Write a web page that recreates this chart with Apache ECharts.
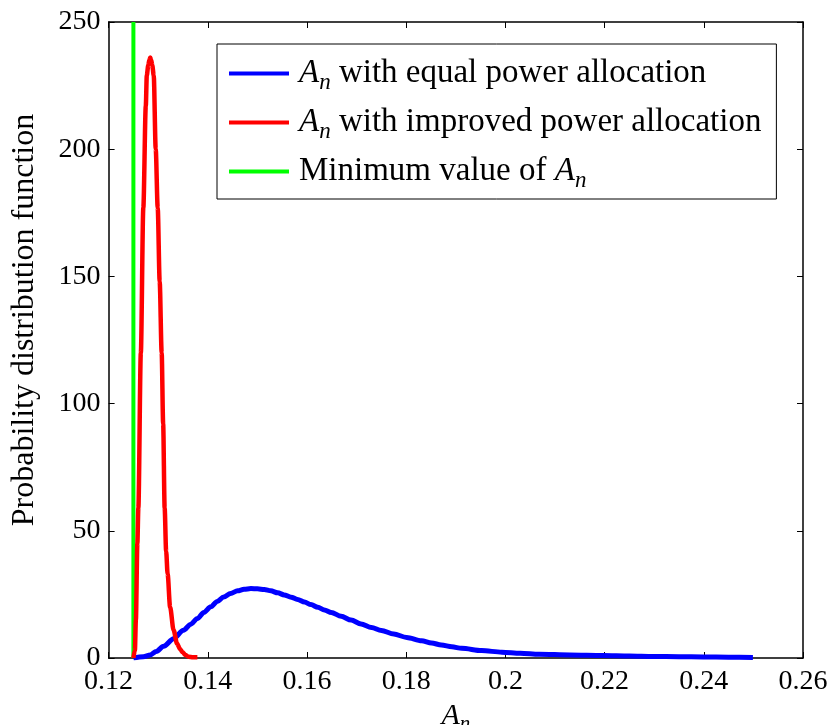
<!DOCTYPE html>
<html>
<head>
<meta charset="utf-8">
<script src="https://cdn.jsdelivr.net/npm/echarts@6/dist/echarts.min.js"></script>
<style>html,body{margin:0;padding:0;background:#fff}#c{width:829px;height:725px}</style>
</head>
<body>
<div id="c"></div>
<script>
// x-axis ticks
const xTicks = [0.12, 0.14, 0.16, 0.18, 0.2, 0.22, 0.24, 0.26];
const yTicks = [0, 50, 100, 150, 200, 250];

// Series: An with equal power allocation (x, pdf)
const equalX = [0.1250, 0.1270, 0.1284, 0.1296, 0.1311, 0.1331, 0.1351, 0.1365, 0.1379, 0.1392, 0.1406, 0.1419, 0.1432, 0.1446, 0.1460, 0.1473, 0.1487, 0.1500, 0.1514, 0.1527, 0.1541, 0.1554, 0.1568, 0.1581, 0.1595, 0.1608, 0.1622, 0.1635, 0.1649, 0.1669, 0.1689, 0.1709, 0.1730, 0.1750, 0.1775, 0.1801, 0.1831, 0.1851, 0.1871, 0.1892, 0.1912, 0.1952, 0.1993, 0.2030, 0.2068, 0.2130, 0.2197, 0.2250, 0.2298, 0.2350, 0.2399, 0.2450, 0.2499];
const equalY = [0.0, 0.5, 1.2, 2.6, 4.6, 7.6, 10.9, 13.2, 15.5, 17.9, 20.1, 22.2, 24.0, 25.4, 26.4, 27.0, 27.3, 27.2, 26.9, 26.4, 25.6, 24.8, 23.9, 23.0, 22.0, 21.0, 19.9, 18.9, 17.9, 16.4, 14.9, 13.4, 12.0, 10.8, 9.4, 8.1, 6.8, 5.9, 5.1, 4.4, 3.8, 2.9, 2.3, 1.9, 1.5, 1.2, 1.0, 0.8, 0.6, 0.5, 0.4, 0.3, 0.2];

// Series: An with improved power allocation
const improvedX = [0.1250, 0.1253, 0.1255, 0.1258, 0.1260, 0.1265, 0.1270, 0.1275, 0.1277, 0.1280, 0.1282, 0.1284, 0.1286, 0.1288, 0.1291, 0.1295, 0.1299, 0.1303, 0.1307, 0.1310, 0.1313, 0.1316, 0.1319, 0.1324, 0.1331, 0.1338, 0.1344, 0.1349, 0.1355, 0.1361, 0.1370, 0.1379];
const improvedY = [0, 3, 15, 45, 59, 120, 177, 217, 229, 233, 235, 236, 235, 233, 229, 200, 177, 148, 120, 92, 59, 42, 33, 20, 11, 5.7, 3.5, 2.3, 1.2, 0.5, 0.3, 0.3];

// Series: minimum value of An
const minX = [0.125, 0.125];
const minY = [0, 250];

const zip = (a, b) => a.map((v, i) => [v, b[i]]);

const FONT = 'Liberation Serif';
const NAMES = ['An with equal power allocation', 'An with improved power allocation', 'Minimum value of An'];
const mkRich = (fs) => ({
  i: {fontFamily: FONT, fontStyle: 'italic', fontSize: fs, color: '#000', lineHeight: Math.round(fs * 1.25), verticalAlign: 'middle'},
  s: {fontFamily: FONT, fontStyle: 'italic', fontSize: Math.round(fs * 0.7), color: '#000', lineHeight: Math.round(fs * 0.7), verticalAlign: 'bottom'},
  t: {fontFamily: FONT, fontSize: fs, color: '#000', lineHeight: Math.round(fs * 1.25), verticalAlign: 'middle'}
});

const chart = echarts.init(document.getElementById('c'), null, {renderer: 'canvas'});
const axisLine = {show: true, onZero: false, lineStyle: {color: '#000', width: 1.5}};
const tick = {show: true, inside: true, length: 6, lineStyle: {color: '#000', width: 1}};

chart.setOption({
  animation: false,
  backgroundColor: '#fff',
  grid: {left: 108.6, right: 26, top: 22, bottom: 67, containLabel: false, outerBoundsMode: 'none'},
  xAxis: [{
    type: 'value', min: 0.12, max: 0.26, interval: 0.02,
    axisLine: axisLine, axisTick: tick, splitLine: {show: false},
    axisLabel: {fontFamily: FONT, fontSize: 28, color: '#000', margin: 10,
      formatter: v => String(+v.toFixed(2))},
    name: '{i|A}{s|n}', nameLocation: 'middle', nameGap: 36,
    nameTextStyle: {rich: mkRich(30)}
  }, {
    type: 'value', min: 0.12, max: 0.26, interval: 0.02, position: 'top',
    axisLine: axisLine, axisTick: tick, axisLabel: {show: false}, splitLine: {show: false}
  }],
  yAxis: [{
    type: 'value', min: 0, max: 250, interval: 50,
    axisLine: axisLine, axisTick: tick, splitLine: {show: false},
    axisLabel: {fontFamily: FONT, fontSize: 28, color: '#000', margin: 8},
    name: 'Probability distribution function', nameLocation: 'middle', nameGap: 68,
    nameTextStyle: {fontFamily: FONT, fontSize: 32, color: '#000', padding: [0, 0, 0, 40]}
  }, {
    type: 'value', min: 0, max: 250, interval: 50, position: 'right',
    axisLine: axisLine, axisTick: tick, axisLabel: {show: false}, splitLine: {show: false}
  }],
  legend: {
    orient: 'vertical', left: 217, top: 44,
    backgroundColor: '#fff', borderColor: '#000', borderWidth: 1,
    padding: [13, 15, 7, 12], itemGap: 12,
    itemWidth: 60, itemHeight: 4, icon: 'rect',
    data: NAMES,
    formatter: n => {
      if (n === NAMES[0]) return '{i|A}{s|n}{t| with equal power allocation}';
      if (n === NAMES[1]) return '{i|A}{s|n}{t| with improved power allocation}';
      return '{t|Minimum value of }{i|A}{s|n}';
    },
    textStyle: {rich: mkRich(33), padding: [0, 0, 0, 5]}
  },
  series: [{
    name: NAMES[0], type: 'line', data: zip(equalX, equalY), showSymbol: false, symbol: 'none',
    smooth: 0.3, smoothMonotone: 'x',
    lineStyle: {color: '#0000ff', width: 5}, itemStyle: {color: '#0000ff'}, z: 3
  }, {
    name: NAMES[1], type: 'line', data: zip(improvedX, improvedY), showSymbol: false, symbol: 'none',
    smooth: 0.3, smoothMonotone: 'x',
    lineStyle: {color: '#ff0000', width: 4.5}, itemStyle: {color: '#ff0000'}, z: 4
  }, {
    name: NAMES[2], type: 'line', data: zip(minX, minY), showSymbol: false, symbol: 'none',
    lineStyle: {color: '#00ff00', width: 4}, itemStyle: {color: '#00ff00'}, z: 2
  }]
});
</script>
</body>
</html>
